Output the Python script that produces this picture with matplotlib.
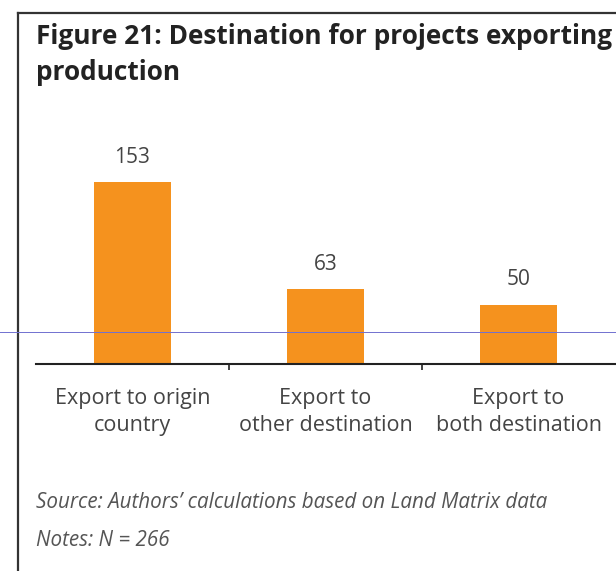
import matplotlib.pyplot as plt
from matplotlib.lines import Line2D

categories = ["Export to origin\ncountry", "Export to\nother destination", "Export to\nboth destination"]
values = [153, 63, 50]

W, H = 616, 571

def fx(px):
    return px / W

def fy(py):
    return 1 - py / H

plt.rcParams['font.family'] = ['Open Sans', 'DejaVu Sans']

fig = plt.figure(figsize=(W / 100, H / 100), dpi=100)

# axes: baseline at y=364 px, x span 36..615 px
ax = fig.add_axes([fx(36), fy(364), fx(615) - fx(36), (364 - 162) / H])
x = list(range(len(values)))
ax.bar(x, values, width=0.40, color='#F5921E')
ax.set_xlim(-0.5, 2.5)
ax.set_ylim(0, 170)
for xi, v in zip(x, values):
    ax.annotate(str(v), (xi, v), xytext=(0, 18), textcoords='offset points',
                ha='center', va='center', fontsize=15, color='#444444')

ax.set_xticks(x)
ax.set_xticklabels(categories, fontsize=15.5, color='#444444', linespacing=1.38)
ax.tick_params(axis='x', which='major', length=0, pad=17)
ax.set_xticks([0.5, 1.5], minor=True)
ax.tick_params(axis='x', which='minor', length=4, width=1.2, color='#222222', direction='out')
ax.set_yticks([])
for s in ['top', 'right', 'left']:
    ax.spines[s].set_visible(False)
ax.spines['bottom'].set_linewidth(1.5)
ax.spines['bottom'].set_color('#222222')
ax.patch.set_alpha(0)

# frame lines (left and top of the box)
fig.add_artist(Line2D([fx(18), fx(18)], [fy(13), 0], color='#333333', lw=1.6))
fig.add_artist(Line2D([fx(18), 1], [fy(13), fy(13)], color='#333333', lw=1.6))
# thin blue guide line
fig.add_artist(Line2D([0, 1], [fy(332), fy(332)], color='#7070d0', lw=0.7))

# title
fig.text(fx(36), fy(37), "Figure 21: Destination for projects exporting", fontsize=18.9,
         fontweight='bold', color='#222222', va='center', ha='left')
fig.text(fx(36), fy(73), "production", fontsize=18.9, fontweight='bold',
         color='#222222', va='center', ha='left')

# source and notes
fig.text(fx(36), fy(503), "Source: Authors\u2019 calculations based on Land Matrix data",
         fontsize=14.9, style='italic', color='#555555', va='center', ha='left')
fig.text(fx(36), fy(540), "Notes: N = 266", fontsize=14.9, style='italic',
         color='#555555', va='center', ha='left')

fig.savefig('out.png', dpi=100)
